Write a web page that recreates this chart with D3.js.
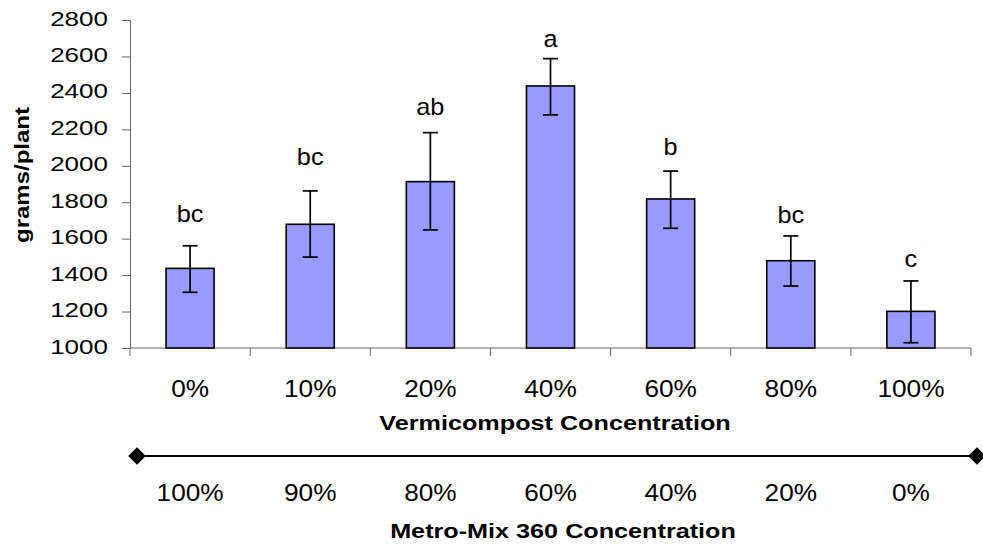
<!DOCTYPE html>
<html>
<head>
<meta charset="utf-8">
<script src="https://cdn.jsdelivr.net/npm/d3@7"></script>
<style>
body { margin: 0; background: #fff; }
text { font-family: "Liberation Sans", Arial, sans-serif; fill: #000; }
</style>
</head>
<body>
<script>
// datos
var categorias = ["0%", "10%", "20%", "40%", "60%", "80%", "100%"];
var metroMix = ["100%", "90%", "80%", "60%", "40%", "20%", "0%"];
var medias = [1437, 1679, 1913, 2438, 1818, 1479, 1201];
var errSup = [1561, 1862, 2182, 2588, 1971, 1615, 1368];
var errInf = [1306, 1499, 1648, 2279, 1657, 1340, 1029];
var letras = ["bc", "bc", "ab", "a", "b", "bc", "c"];
var letraY = [1691, 2004, 2279, 2654, 2059, 1686, 1445];
var yTicks = [1000, 1200, 1400, 1600, 1800, 2000, 2200, 2400, 2600, 2800];

var w = 983, h = 549;
var izq = 130, der = 971, arriba = 20, abajo = 348;

var svg = d3.select("body").append("svg")
    .attr("width", w)
    .attr("height", h);

var xScale = d3.scaleBand()
    .domain(categorias)
    .range([izq, der])
    .padding(0);

var yScale = d3.scaleLinear()
    .domain([1000, 2800])
    .range([abajo, arriba]);

// texto con ensanchado horizontal (el original sale ensanchado)
function texto(g, x, y, t, size, sx, peso, rot, anchor) {
    return g.append("text")
        .attr("transform", "translate(" + x + "," + y + ")" + (rot ? " rotate(" + rot + ")" : "") + " scale(" + sx + ",1)")
        .attr("text-anchor", anchor || "middle")
        .attr("font-size", size + "px")
        .attr("font-weight", peso || "normal")
        .text(t);
}

// eje Y (solo linea y marcas, las etiquetas van aparte)
var yAxis = d3.axisLeft(yScale)
    .tickValues(yTicks)
    .tickSize(8)
    .tickFormat("");

var gy = svg.append("g")
    .attr("transform", "translate(" + izq + ",0)")
    .call(yAxis);
gy.selectAll("path, line").attr("stroke", "#666");

yTicks.forEach(function(t) {
    texto(svg, izq - 22, yScale(t) + 5.5, d3.format("d")(t), 20, 1.3, "normal", 0, "end");
});

// eje X con marcas entre categorias
svg.append("line")
    .attr("x1", izq).attr("x2", der)
    .attr("y1", abajo).attr("y2", abajo)
    .attr("stroke", "#666");

svg.selectAll(".marca")
    .data(categorias.concat(["fin"]))
    .enter()
    .append("line")
    .attr("class", "marca")
    .attr("x1", function(d, i) { return izq + i * xScale.step(); })
    .attr("x2", function(d, i) { return izq + i * xScale.step(); })
    .attr("y1", abajo)
    .attr("y2", abajo + 8)
    .attr("stroke", "#666");

// barras
svg.selectAll(".barra")
    .data(medias)
    .enter()
    .append("rect")
    .attr("class", "barra")
    .attr("x", function(d, i) { return xScale(categorias[i]) + xScale.bandwidth() * 0.3; })
    .attr("width", xScale.bandwidth() * 0.4)
    .attr("y", function(d) { return yScale(d); })
    .attr("height", function(d) { return yScale(1000) - yScale(d); })
    .attr("fill", "#9999FF")
    .attr("stroke", "#000")
    .attr("stroke-width", 1.6);

// barras de error
var centro = function(i) { return xScale(categorias[i]) + xScale.bandwidth() / 2; };
var ge = svg.append("g").attr("stroke", "#000").attr("stroke-width", 1.7);
medias.forEach(function(d, i) {
    var cx = centro(i);
    ge.append("line").attr("x1", cx).attr("x2", cx)
        .attr("y1", yScale(errSup[i])).attr("y2", yScale(errInf[i]));
    ge.append("line").attr("x1", cx - 7.5).attr("x2", cx + 7.5)
        .attr("y1", yScale(errSup[i])).attr("y2", yScale(errSup[i]));
    ge.append("line").attr("x1", cx - 7.5).attr("x2", cx + 7.5)
        .attr("y1", yScale(errInf[i])).attr("y2", yScale(errInf[i]));
});

// letras de significacion
letras.forEach(function(l, i) {
    texto(svg, centro(i), yScale(letraY[i]), l, 23, 1.1);
});

// etiquetas del eje X
categorias.forEach(function(c, i) {
    texto(svg, centro(i), 397, c, 23, 1.14);
});
texto(svg, 555, 430, "Vermicompost Concentration", 21, 1.2, "bold");

// titulo eje Y
texto(svg, 29, 175, "grams/plant", 20, 1.2, "bold", -90);

// linea con rombos
svg.append("line")
    .attr("x1", 137).attr("x2", 977)
    .attr("y1", 456).attr("y2", 456)
    .attr("stroke", "#000").attr("stroke-width", 2);
svg.selectAll(".rombo")
    .data([137, 977])
    .enter()
    .append("path")
    .attr("class", "rombo")
    .attr("d", d3.symbol().type(d3.symbolDiamond2).size(200))
    .attr("transform", function(d) { return "translate(" + d + ",456)"; })
    .attr("fill", "#000");

// segunda escala: Metro-Mix
metroMix.forEach(function(c, i) {
    texto(svg, centro(i), 501, c, 23, 1.14);
});
texto(svg, 563, 538, "Metro-Mix 360 Concentration", 21, 1.2, "bold");
</script>
</body>
</html>
